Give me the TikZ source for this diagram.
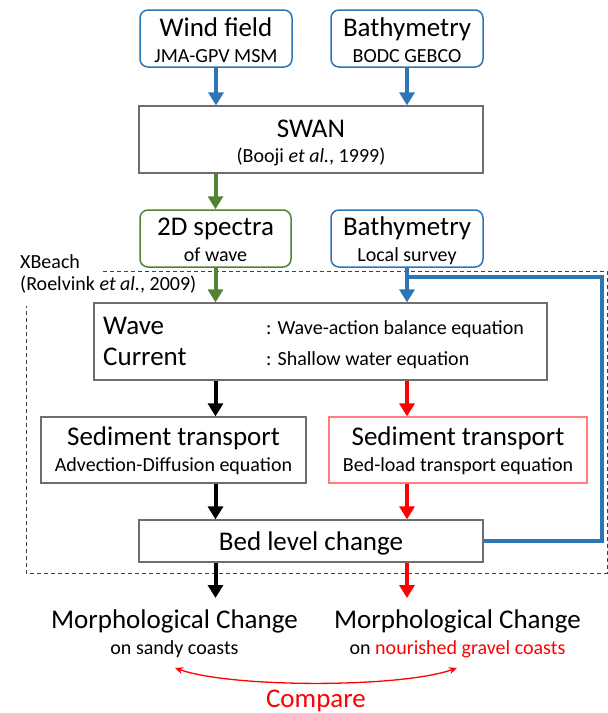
\documentclass[tikz,border=0pt]{standalone}
\usepackage{fontspec}
\setmainfont{Carlito}
\usetikzlibrary{arrows.meta,calc}
\definecolor{cblue}{HTML}{2E75B6}
\definecolor{cgreen}{HTML}{548235}
\definecolor{cred}{HTML}{FF0000}
\definecolor{cpink}{HTML}{FF7C80}
\definecolor{cgray}{HTML}{6E6E6E}
\definecolor{cdash}{HTML}{404040}
\newcommand{\FBig}{\fontsize{27}{30}\selectfont}
\newcommand{\FSmall}{\fontsize{20}{24}\selectfont}
\tikzset{
  plainbox/.style={draw=cgray, line width=1.3pt, inner sep=0pt, rectangle},
  bluebox/.style={draw=cblue, line width=1.5pt, rounded corners=8pt, inner sep=0pt, rectangle},
  greenbox/.style={draw=cgreen, line width=1.5pt, rounded corners=8pt, inner sep=0pt, rectangle},
  pinkbox/.style={draw=cpink, line width=1.3pt, inner sep=0pt, rectangle},
  bigtxt/.style={anchor=base, inner sep=0pt, font=\FBig},
  smalltxt/.style={anchor=base, inner sep=0pt, font=\FSmall},
  bigleft/.style={anchor=base west, inner sep=0pt, font=\FBig},
  smallleft/.style={anchor=base west, inner sep=0pt, font=\FSmall},
  arr/.style={line width=4pt, -{Triangle[width=15pt,length=13pt]}},
}
\begin{document}
\begin{tikzpicture}[x=1pt,y=-1pt]
\useasboundingbox (0,0) rectangle (608,713);

% XBeach frame
\draw[cdash, line width=1pt, dash pattern=on 4pt off 3pt]
  (103,271) -- (607,271) -- (607,573) -- (26,573) -- (26,306);
\node[smallleft] (xb1) at (20,268) {XBeach};
\node[smallleft] (xb2) at (20,290) {(Roelvink \textit{et al.}, 2009)};

% boxes
\node[bluebox, minimum width=152pt, minimum height=57pt] (wind) at (216,38.5) {};
\node[bluebox, minimum width=152pt, minimum height=57pt] (bathyA) at (407,38.5) {};
\node[plainbox, minimum width=344pt, minimum height=67pt] (swan) at (311,139.5) {};
\node[greenbox, minimum width=151pt, minimum height=57pt] (spectra) at (215.5,238.5) {};
\node[bluebox, minimum width=152pt, minimum height=57pt] (bathyB) at (407,238.5) {};
\node[plainbox, minimum width=453pt, minimum height=77pt] (wavebox) at (320.5,341.5) {};
\node[plainbox, minimum width=265pt, minimum height=66pt] (sedL) at (173.5,450) {};
\node[pinkbox, minimum width=258pt, minimum height=66pt] (sedR) at (458,450) {};
\node[plainbox, minimum width=344pt, minimum height=42pt] (bed) at (311,541) {};

% texts
\node[bigtxt] (windT) at (216,36.7) {Wind field};
\node[smalltxt] (windS) at (216,62) {JMA-GPV MSM};
\node[bigtxt] (bathyAT) at (407,36.7) {Bathymetry};
\node[smalltxt] (bathyAS) at (407,62) {BODC GEBCO};
\node[bigtxt] (swanT) at (311,137) {SWAN};
\node[smalltxt] (swanS) at (311,162.5) {(Booji \textit{et al.}, 1999)};
\node[bigtxt] (specT) at (215.5,235.7) {2D spectra};
\node[smalltxt] (specS) at (215.5,261.7) {of wave};
\node[bigtxt] (bathyBT) at (407,235.7) {Bathymetry};
\node[smalltxt] (bathyBS) at (407,261.7) {Local survey};
\node[bigleft] (waveT) at (103,334) {Wave};
\node[bigleft] (curT) at (103,365.7) {Current};
\node[smallleft] (waveS) at (266,334) {: Wave-action balance equation};
\node[smallleft] (curS) at (266,365.7) {: Shallow water equation};
\node[bigtxt] (sedLT) at (173.5,445.7) {Sediment transport};
\node[smalltxt] (sedLS) at (173.5,471.7) {Advection-Diffusion equation};
\node[bigtxt] (sedRT) at (458,445.7) {Sediment transport};
\node[smalltxt] (sedRS) at (458,471.7) {Bed-load transport equation};
\node[bigtxt] (bedT) at (311,550) {Bed level change};
\node[bigtxt] (morphL) at (174.5,628) {Morphological Change};
\node[smalltxt] (morphLS) at (174.5,654) {on sandy coasts};
\node[bigtxt] (morphR) at (457.5,628) {Morphological Change};
\node[smalltxt] (morphRS) at (457.5,654) {on \textcolor{cred}{nourished gravel coasts}};
\node[bigtxt, text=cred] (cmp) at (316,707) {Compare};

% connectors
\draw[arr, cblue] (wind.south) -- (wind.south |- swan.north);
\draw[arr, cblue] (bathyA.south) -- (bathyA.south |- swan.north);
\draw[arr, cgreen] (spectra.north |- swan.south) -- (spectra.north);
\draw[arr, cgreen] (spectra.south) -- (spectra.south |- wavebox.north);
\coordinate (fb1) at (602,541);
\coordinate (fb2) at (602,277);
\draw[cblue, line width=4pt] (bed.east) -- (fb1) -- (fb2) -- (bathyB.south |- fb2);
\draw[arr, cblue] (bathyB.south) -- (bathyB.south |- wavebox.north);
\draw[arr, black] (spectra.south |- wavebox.south) -- (spectra.south |- sedL.north);
\draw[arr, cred] (bathyB.south |- wavebox.south) -- (bathyB.south |- sedR.north);
\draw[arr, black] (spectra.south |- sedL.south) -- (spectra.south |- bed.north);
\draw[arr, cred] (bathyB.south |- sedR.south) -- (bathyB.south |- bed.north);
\coordinate (endL) at (215.5,598);
\coordinate (endR) at (407,598);
\draw[arr, black] (bed.south -| endL) -- (endL);
\draw[arr, cred] (bed.south -| endR) -- (endR);
\coordinate (cL) at (175,668);
\coordinate (cR) at (457,668);
\draw[cred, line width=1.3pt, {Stealth[length=8pt,width=7pt]}-{Stealth[length=8pt,width=7pt]}]
  (cR) .. controls (400,688) and (232,688) .. (cL);
\end{tikzpicture}
\end{document}
